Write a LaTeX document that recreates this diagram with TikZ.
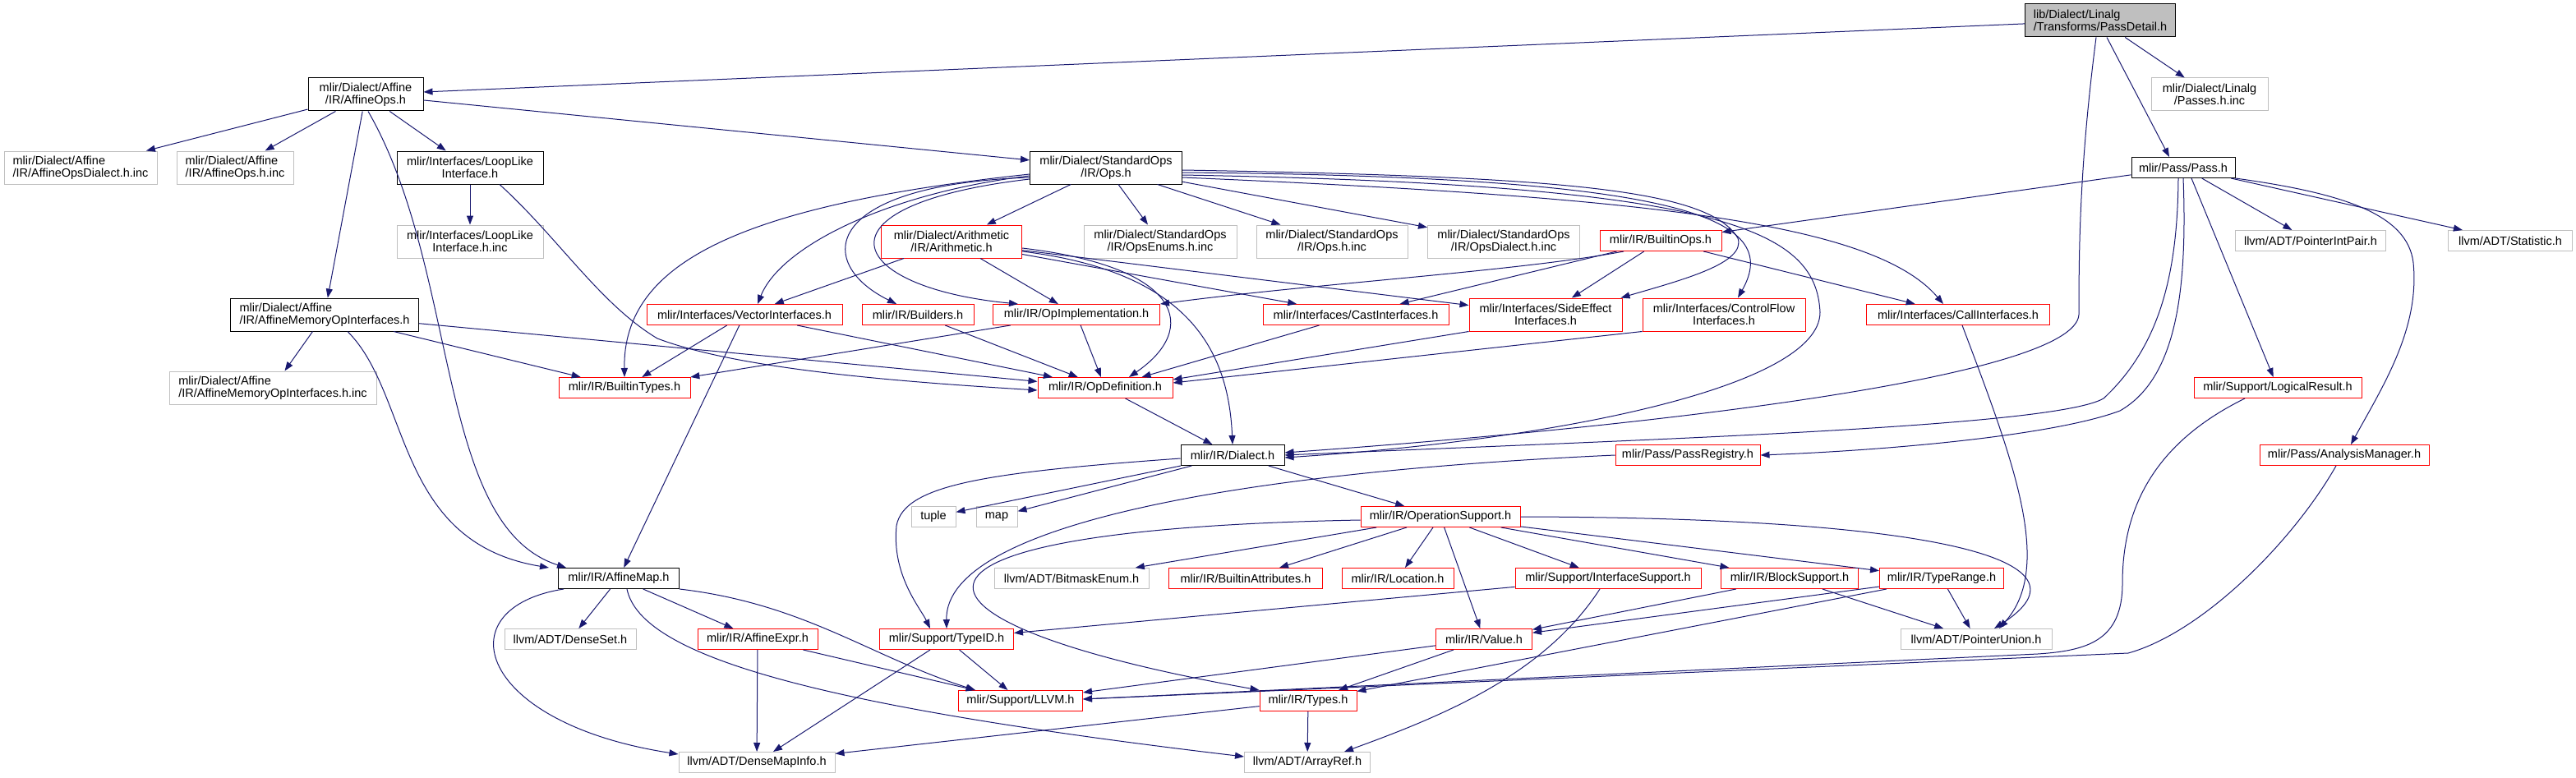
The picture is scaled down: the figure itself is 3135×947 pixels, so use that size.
\documentclass[tikz,border=0pt]{standalone}
\usepackage{fontspec}
\setmainfont{Liberation Sans}
\usepackage{xcolor}
\usepackage{tikz}
\usetikzlibrary{arrows.meta}
\definecolor{edgeblue}{HTML}{191970}
\definecolor{grey75}{HTML}{BFBFBF}
\tikzset{
  hfile/.style   ={rectangle, inner sep=0pt, line width=1pt, fill=white,
                   minimum height=25pt, minimum width=#1, align=center,
                   font=\fontsize{14.5}{15}\selectfont},
  fullnode/.style={hfile=#1, draw=black},
  cutnode/.style ={hfile=#1, draw=red},
  leafnode/.style={hfile=#1, draw=grey75},
  rootnode/.style={hfile=#1, draw=black, fill=grey75},
  twoline/.style ={minimum height=40pt},
  dep/.style     ={-{Triangle[length=11pt,width=8pt]}, line width=1pt, draw=edgeblue}
}
\begin{document}
\begin{tikzpicture}[x=1pt, y=-1pt]
  \useasboundingbox (0,0) rectangle (3135,947);

  \node[rootnode=183, twoline, align=left] (pdet) at (2556,25) {lib/Dialect/Linalg\\/Transforms/PassDetail.h};
  \node[fullnode=140, twoline] (affops)  at (445,115)  {mlir/Dialect/Affine\\/IR/AffineOps.h};
  \node[leafnode=142, twoline] (linpinc) at (2689,115) {mlir/Dialect/Linalg\\/Passes.h.inc};
  \node[leafnode=186, twoline, align=left] (affdinc) at (98,204)  {mlir/Dialect/Affine\\/IR/AffineOpsDialect.h.inc};
  \node[leafnode=142, twoline, align=left] (affoinc) at (286,204) {mlir/Dialect/Affine\\/IR/AffineOps.h.inc};
  \node[fullnode=178, twoline] (looplike) at (572,204)  {mlir/Interfaces/LoopLike\\Interface.h};
  \node[fullnode=185, twoline] (stdops)   at (1346,204) {mlir/Dialect/StandardOps\\/IR/Ops.h};
  \node[fullnode=126]          (pass)     at (2657,204) {mlir/Pass/Pass.h};
  \node[leafnode=178, twoline] (loopinc)  at (572,294)  {mlir/Interfaces/LoopLike\\Interface.h.inc};
  \node[cutnode=171, twoline]  (arith)    at (1158,294) {mlir/Dialect/Arithmetic\\/IR/Arithmetic.h};
  \node[leafnode=186, twoline] (opsenum)  at (1412,294) {mlir/Dialect/StandardOps\\/IR/OpsEnums.h.inc};
  \node[leafnode=184, twoline] (opsinc)   at (1621,294) {mlir/Dialect/StandardOps\\/IR/Ops.h.inc};
  \node[leafnode=185, twoline] (opsdinc)  at (1830,294) {mlir/Dialect/StandardOps\\/IR/OpsDialect.h.inc};
  \node[cutnode=148]           (bops)     at (2021,293) {mlir/IR/BuiltinOps.h};
  \node[leafnode=183]          (ptrint)   at (2812,293) {llvm/ADT/PointerIntPair.h};
  \node[leafnode=151]          (stat)     at (3055,293) {llvm/ADT/Statistic.h};
  \node[fullnode=229, twoline, align=left] (affmem) at (395,383) {mlir/Dialect/Affine\\/IR/AffineMemoryOpInterfaces.h};
  \node[cutnode=238]           (vecif)    at (906,383)  {mlir/Interfaces/VectorInterfaces.h};
  \node[cutnode=136]           (build)    at (1117,383) {mlir/IR/Builders.h};
  \node[cutnode=203]           (opimpl)   at (1310,383) {mlir/IR/OpImplementation.h};
  \node[cutnode=226]           (castif)   at (1650,383) {mlir/Interfaces/CastInterfaces.h};
  \node[cutnode=186, twoline]  (sideif)   at (1881,383) {mlir/Interfaces/SideEffect\\Interfaces.h};
  \node[cutnode=198, twoline]  (ctrlif)   at (2098,383) {mlir/Interfaces/ControlFlow\\Interfaces.h};
  \node[cutnode=223]           (callif)   at (2383,383) {mlir/Interfaces/CallInterfaces.h};
  \node[leafnode=252, twoline, align=left] (affminc) at (332,472) {mlir/Dialect/Affine\\/IR/AffineMemoryOpInterfaces.h.inc};
  \node[cutnode=160]           (btypes)   at (760,472)  {mlir/IR/BuiltinTypes.h};
  \node[cutnode=164]           (opdef)    at (1345,472) {mlir/IR/OpDefinition.h};
  \node[cutnode=204]           (logres)   at (2772,472) {mlir/Support/LogicalResult.h};
  \node[fullnode=126]          (dialect)  at (1500,554) {mlir/IR/Dialect.h};
  \node[cutnode=176]           (preg)     at (2054,554) {mlir/Pass/PassRegistry.h};
  \node[cutnode=206]           (anman)    at (2853,554) {mlir/Pass/AnalysisManager.h};
  \node[leafnode=54]           (tuple)    at (1136,629) {tuple};
  \node[leafnode=50]           (map)      at (1213,629) {map};
  \node[cutnode=194]           (opsup)    at (1753,629) {mlir/IR/OperationSupport.h};
  \node[fullnode=147]          (affmap)   at (753,704)  {mlir/IR/AffineMap.h};
  \node[leafnode=188]          (bitmask)  at (1304,704) {llvm/ADT/BitmaskEnum.h};
  \node[cutnode=187]           (battr)    at (1516,704) {mlir/IR/BuiltinAttributes.h};
  \node[cutnode=136]           (loc)      at (1701,704) {mlir/IR/Location.h};
  \node[cutnode=226]           (ifsup)    at (1957,704) {mlir/Support/InterfaceSupport.h};
  \node[cutnode=167]           (blksup)   at (2178,704) {mlir/IR/BlockSupport.h};
  \node[cutnode=151]           (trange)   at (2363,704) {mlir/IR/TypeRange.h};
  \node[leafnode=160]          (denseset) at (694,778)  {llvm/ADT/DenseSet.h};
  \node[cutnode=146]           (affexpr)  at (922,778)  {mlir/IR/AffineExpr.h};
  \node[cutnode=163]           (typeid)   at (1152,778) {mlir/Support/TypeID.h};
  \node[cutnode=117]           (value)    at (1806,778) {mlir/IR/Value.h};
  \node[leafnode=184]          (ptrunion) at (2405,778) {llvm/ADT/PointerUnion.h};
  \node[cutnode=151]           (llvm)     at (1242,853) {mlir/Support/LLVM.h};
  \node[cutnode=118]           (types)    at (1592,853) {mlir/IR/Types.h};
  \node[leafnode=190]          (dmi)      at (921,928)  {llvm/ADT/DenseMapInfo.h};
  \node[leafnode=153]          (aref)     at (1591,928) {llvm/ADT/ArrayRef.h};

  \draw[dep] (pdet) -- (affops);  \draw[dep] (pdet) -- (linpinc);
  \draw[dep] ([xshift=8pt]pdet.south) -- ([xshift=-17pt]pass.north);
  \draw[dep] ([xshift=-5pt]pdet.south) .. controls (2531,200) and (2530,300) .. (2530,383)
    .. controls (2525,460) and (2000,520) .. ([yshift=3pt]dialect.east);

  \draw[dep] (affops) -- (affdinc); \draw[dep] (affops) -- (affoinc);
  \draw[dep] (affops) -- (looplike); \draw[dep] (affops) -- (stdops);
  \draw[dep] (affops) -- (affmem);
  \draw[dep] ([xshift=3pt]affops.south) .. controls (560,330) and (530,640) .. ([xshift=-64pt]affmap.north);

  \draw[dep] (looplike) -- (loopinc);
  \draw[dep] ([xshift=36pt]looplike.south) .. controls (680,290) and (730,370) .. (800,412)
    .. controls (900,450) and (1100,465) .. ([yshift=-3pt]opdef.west);

  \draw[dep] (affmem) -- (affminc); \draw[dep] (affmem) -- (btypes);
  \draw[dep] (affmem) -- (opdef);
  \draw[dep] ([xshift=28pt]affmem.south) .. controls (500,480) and (480,660) .. ([xshift=-85pt]affmap.north);

  \draw[dep] (stdops) -- (arith);   \draw[dep] (stdops) -- (opsenum);
  \draw[dep] (stdops) -- (opsinc);  \draw[dep] (stdops) -- (opsdinc);
  \draw[dep] ([yshift=-8pt]stdops.west) .. controls (900,250) and (758,320) .. (btypes.north);
  \draw[dep] ([yshift=-10pt]stdops.west) .. controls (1080,235) and (950,300) .. ([xshift=16pt]vecif.north);
  \draw[dep] ([yshift=-12pt]stdops.west) .. controls (1000,225) and (990,320) .. ([xshift=-26pt]build.north);
  \draw[dep] ([yshift=-14pt]stdops.west) .. controls (980,250) and (1030,350) .. ([xshift=-71pt]opimpl.north);
  \draw[dep] ([yshift=-3pt]stdops.east) .. controls (1900,215) and (2080,230) .. (2115,290)
    .. controls (2125,320) and (2050,340) .. ([xshift=-2pt]sideif.north east);
  \draw[dep] ([yshift=-6pt]stdops.east) .. controls (2050,215) and (2170,265) .. ([xshift=17pt]ctrlif.north);
  \draw[dep] ([yshift=-9pt]stdops.east) .. controls (2100,225) and (2210,280) .. (2215,380)
    .. controls (2215,470) and (1900,535) .. ([yshift=-3pt]dialect.east);
  \draw[dep] ([yshift=-12pt]stdops.east) .. controls (2000,240) and (2280,270) .. ([xshift=-18pt]callif.north);

  \draw[dep] (arith) -- (vecif);  \draw[dep] (arith) -- (opimpl);
  \draw[dep] (arith) -- (castif); \draw[dep] (arith) -- (sideif);
  \draw[dep] ([yshift=-8pt]arith.east) .. controls (1440,325) and (1460,400) .. ([xshift=29pt]opdef.north);
  \draw[dep] ([yshift=-12pt]arith.east) .. controls (1440,330) and (1495,420) .. (dialect.north);

  \draw[dep] ([xshift=-45pt]bops.south) .. controls (1850,330) and (1600,345) .. (opimpl.north east);
  \draw[dep] (bops) -- (castif); \draw[dep] (bops) -- (sideif);
  \draw[dep] (bops) -- (callif);

  \draw[dep] (pass) -- (bops); \draw[dep] (pass) -- (ptrint);
  \draw[dep] (pass) -- (stat);
  \draw[dep] ([xshift=10pt]pass.south) -- (logres);
  \draw[dep] ([xshift=-6pt]pass.south) .. controls (2650,330) and (2630,420) .. (2560,485)
    .. controls (2500,520) and (2000,535) .. (dialect.east);
  \draw[dep] (pass.south) .. controls (2662,350) and (2650,460) .. (2580,500)
    .. controls (2500,530) and (2300,548) .. (preg.east);
  \draw[dep] (pass.south east) .. controls (2850,235) and (2930,260) .. (2937,320)
    .. controls (2945,400) and (2900,470) .. ([xshift=8pt]anman.north);

  \draw[dep] (vecif) -- (btypes); \draw[dep] (vecif) -- (opdef);
  \draw[dep] (vecif) -- (affmap); \draw[dep] (build) -- (opdef);
  \draw[dep] (opimpl) -- (btypes); \draw[dep] (opimpl) -- (opdef);
  \draw[dep] (castif) -- (opdef);
  \draw[dep] (sideif.south west) -- ([yshift=10pt]opdef.east);
  \draw[dep] (ctrlif.south west) -- ([yshift=6pt]opdef.east);
  \draw[dep] ([xshift=5pt]callif.south) .. controls (2450,560) and (2500,690) .. ([xshift=28pt]ptrunion.north);

  \draw[dep] (opdef) -- (dialect);
  \draw[dep] (dialect) -- (tuple); \draw[dep] (dialect) -- (map);
  \draw[dep] (dialect) -- (opsup);
  \draw[dep] ([yshift=-4pt]dialect.west) .. controls (1200,575) and (1100,590) .. (1091,640)
    .. controls (1085,700) and (1120,740) .. ([xshift=-20pt]typeid.north);
  \draw[dep] (preg.west) .. controls (1500,575) and (1150,640) .. (typeid.north);

  \draw[dep] (opsup) -- (bitmask); \draw[dep] (opsup) -- (battr);
  \draw[dep] (opsup) -- (loc);     \draw[dep] (opsup) -- (value);
  \draw[dep] (opsup) -- (ifsup);   \draw[dep] (opsup) -- (blksup);
  \draw[dep] (opsup) -- (trange);
  \draw[dep] (opsup.east) .. controls (2350,630) and (2560,680) .. ([xshift=22pt]ptrunion.north);
  \draw[dep] ([yshift=-4pt]opsup.west) .. controls (1020,645) and (1080,760) .. (types.north west);

  \draw[dep] (ifsup) -- (typeid);
  \draw[dep] ([xshift=-10pt]ifsup.south) .. controls (1880,820) and (1760,870) .. ([xshift=45pt]aref.north);
  \draw[dep] (blksup) -- (value);  \draw[dep] (blksup) -- (ptrunion);
  \draw[dep] (trange) -- (value);  \draw[dep] (trange) -- (types);
  \draw[dep] (trange) -- (ptrunion);
  \draw[dep] (value) -- (types);   \draw[dep] (value) -- (llvm);
  \draw[dep] (types) -- (dmi);     \draw[dep] (types) -- (aref);
  \draw[dep] (typeid) -- (llvm);   \draw[dep] (typeid) -- (dmi);

  \draw[dep] (affmap) -- (denseset); \draw[dep] (affmap) -- (affexpr);
  \draw[dep] (affmap.south east) .. controls (980,735) and (1060,800) .. ([xshift=-55pt]llvm.north);
  \draw[dep] ([xshift=7pt]affmap.south west) .. controls (540,740) and (580,880) .. ([yshift=10pt]dmi.west);
  \draw[dep] ([xshift=10pt]affmap.south) .. controls (780,800) and (1000,860) .. ([yshift=7pt]aref.west);
  \draw[dep] (affexpr) -- (dmi);   \draw[dep] (affexpr) -- (llvm);

  \draw[dep] ([xshift=-40pt]logres.south) .. controls (2620,540) and (2583,620) .. (2583,710)
    .. controls (2583,780) and (2540,792) .. (2480,796) -- ([yshift=2pt]llvm.east);
  \draw[dep] ([xshift=-10pt]anman.south) .. controls (2790,660) and (2680,770) .. (2590,795)
    -- ([yshift=2pt]llvm.east);
\end{tikzpicture}
\end{document}
